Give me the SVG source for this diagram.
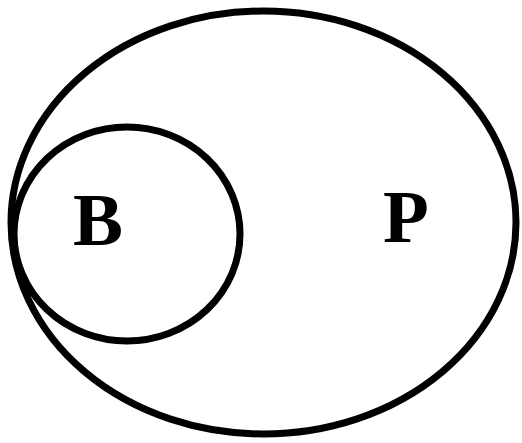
<svg xmlns="http://www.w3.org/2000/svg" width="522" height="443" viewBox="0 0 522 443">
<style>
.c{fill:none;stroke:#000;stroke-width:7}
.t{font-family:"Liberation Serif","Times New Roman",serif;font-weight:bold;font-size:75px;fill:#000}
</style>
<rect width="522" height="443" fill="#fff"/>
<g id="P">
<ellipse class="c" cx="263.5" cy="222.5" rx="252.5" ry="211.5"/>
<text class="t" x="383" y="242">P</text>
</g>
<g id="B">
<ellipse class="c" cx="127" cy="234" rx="113" ry="107"/>
<text class="t" x="73" y="245">B</text>
</g>
<g id="connectors"/>
</svg>
